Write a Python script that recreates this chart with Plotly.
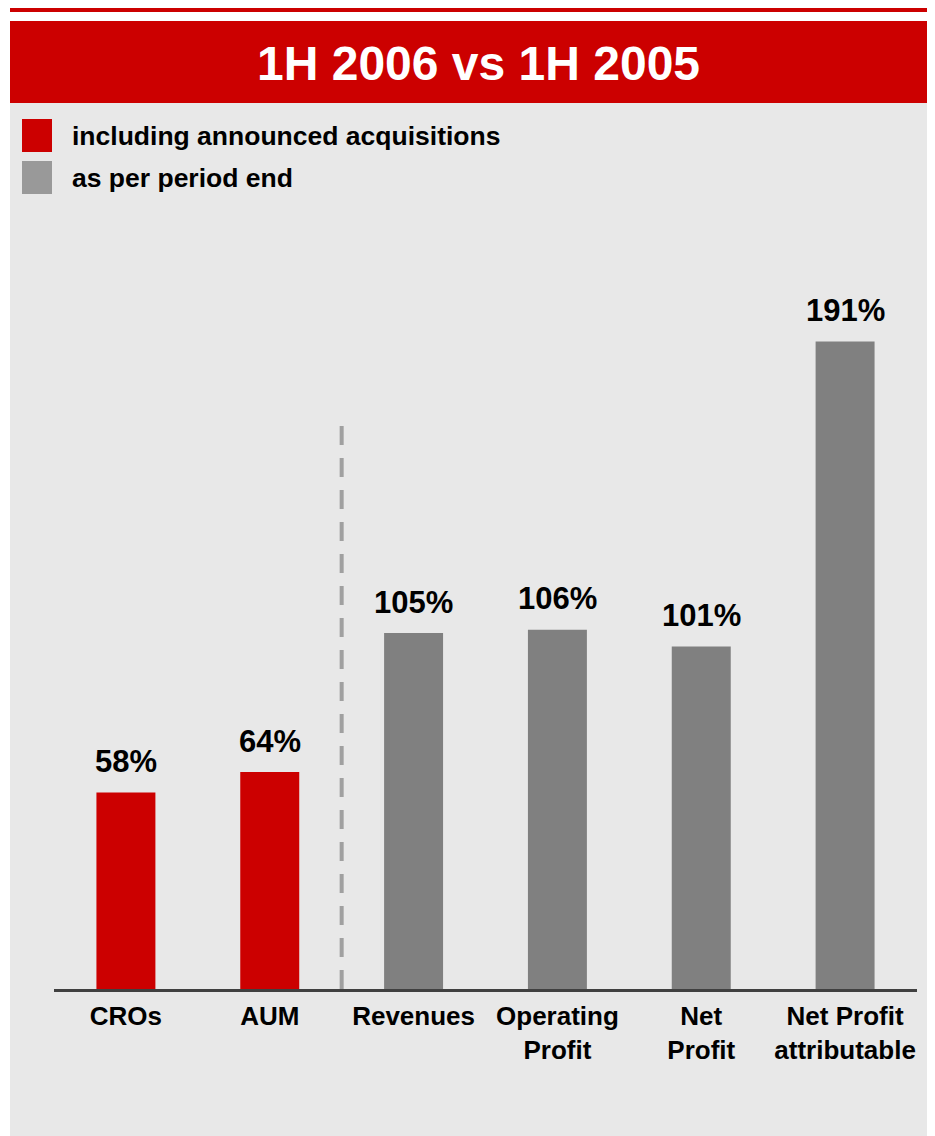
import plotly.graph_objects as go

categories = ["CROs", "AUM", "Revenues", "Operating<br>Profit", "Net<br>Profit", "Net Profit<br>attributable"]
values = [58, 64, 105, 106, 101, 191]
value_labels = ["58%", "64%", "105%", "106%", "101%", "191%"]
groups = ["acq", "acq", "period", "period", "period", "period"]
legend_labels = ["including announced acquisitions", "as per period end"]
title_text = "1H 2006 vs 1H 2005"

RED = "#CC0000"
GRAY_BAR = "#808080"
GRAY_LEG = "#999999"
PANEL = "#E8E8E8"
FONT = "Liberation Sans, Arial, sans-serif"

OFF = 8  # page body margin offset
W, H = 935 - OFF, 1136 - OFF
ML, MR, MT = 54 - OFF, 18, 311 - OFF
MB = H + OFF - 989
PW, PH = W - ML - MR, H - MT - MB

def px_x(p):
    return (p - OFF - ML) / PW

def px_y(p):
    return (H - MB - (p - OFF)) / PH

colors = [RED if g == "acq" else GRAY_BAR for g in groups]

fig = go.Figure()
fig.add_trace(go.Bar(
    x=categories, y=values, marker=dict(color=colors, line=dict(width=0)),
    showlegend=False, hoverinfo="skip",
))

shapes = []
shapes.append(dict(type="rect", xref="paper", yref="paper", x0=px_x(10), x1=px_x(945),
                   y0=px_y(1150), y1=px_y(103), fillcolor=PANEL, line=dict(width=0), layer="below"))
shapes.append(dict(type="rect", xref="paper", yref="paper", x0=px_x(10), x1=px_x(945),
                   y0=px_y(103), y1=px_y(21), fillcolor=RED, line=dict(width=0), layer="below"))
shapes.append(dict(type="rect", xref="paper", yref="paper", x0=px_x(10), x1=px_x(945),
                   y0=px_y(12), y1=px_y(3), fillcolor=RED, line=dict(width=0), layer="below"))
shapes.append(dict(type="rect", xref="paper", yref="paper", x0=px_x(22), x1=px_x(52),
                   y0=px_y(152), y1=px_y(119), fillcolor=RED, line=dict(width=0)))
shapes.append(dict(type="rect", xref="paper", yref="paper", x0=px_x(22), x1=px_x(52),
                   y0=px_y(194), y1=px_y(161), fillcolor=GRAY_LEG, line=dict(width=0)))
shapes.append(dict(type="line", xref="x", yref="paper", x0=1.5, x1=1.5,
                   y0=0, y1=px_y(423), line=dict(color="#A0A0A0", width=4, dash="19px,13px")))

annotations = []
annotations.append(dict(xref="paper", yref="paper", x=px_x(478), y=px_y(64), text=title_text,
                        showarrow=False, xanchor="center", yanchor="middle",
                        font=dict(family=FONT, size=48, color="white", weight="bold")))
annotations.append(dict(xref="paper", yref="paper", x=px_x(70), y=px_y(136), text=legend_labels[0],
                        showarrow=False, xanchor="left", yanchor="middle",
                        font=dict(family=FONT, size=26.5, color="black", weight="bold")))
annotations.append(dict(xref="paper", yref="paper", x=px_x(70), y=px_y(178), text=legend_labels[1],
                        showarrow=False, xanchor="left", yanchor="middle",
                        font=dict(family=FONT, size=26.5, color="black", weight="bold")))
for c, v, t in zip(categories, values, value_labels):
    annotations.append(dict(xref="x", yref="y", x=c, y=v, text=t, showarrow=False,
                            xanchor="center", yanchor="middle", yshift=31,
                            font=dict(family=FONT, size=31, color="black", weight="bold")))

fig.update_layout(
    width=W, height=H,
    margin=dict(l=ML, r=MR, t=MT, b=MB, pad=0),
    paper_bgcolor="white", plot_bgcolor="rgba(0,0,0,0)",
    bargap=0.59,
    shapes=shapes, annotations=annotations,
    xaxis=dict(showline=True, linecolor="#404040", linewidth=3, showgrid=False, zeroline=False,
               ticks="", ticklabelstandoff=2, range=[-0.5, 5.5],
               tickfont=dict(family=FONT, size=26, color="black", weight="bold")),
    yaxis=dict(visible=False, range=[0, 200], showgrid=False, zeroline=False),
    font=dict(family=FONT),
)

fig.write_html("out.html")
